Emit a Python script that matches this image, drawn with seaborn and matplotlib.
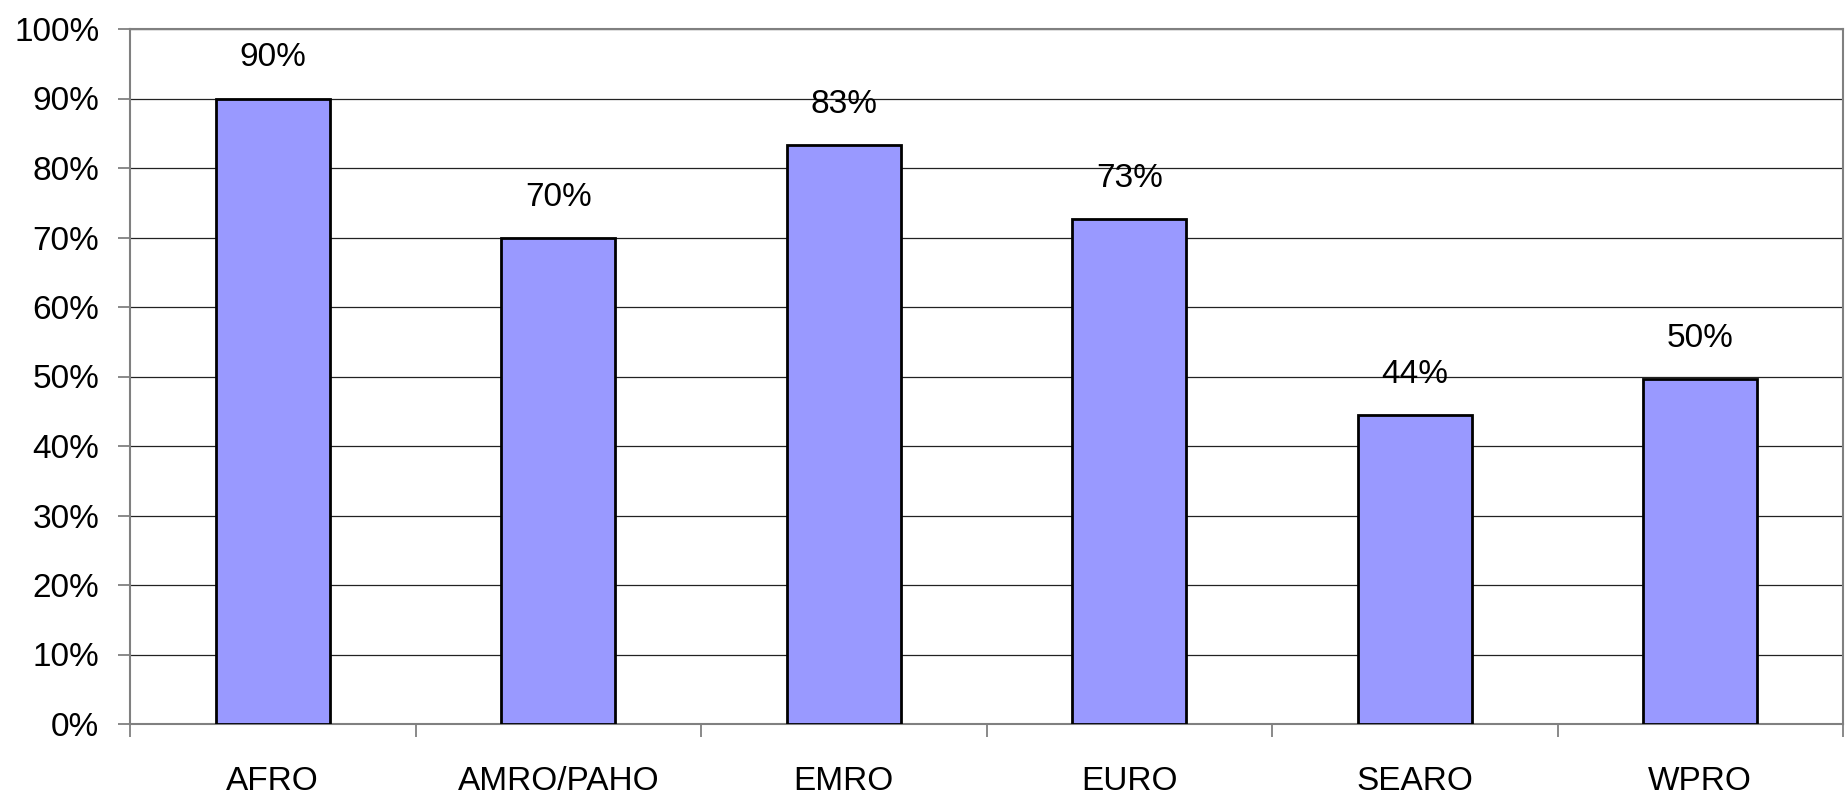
import matplotlib
matplotlib.use("Agg")
import matplotlib.pyplot as plt
import seaborn as sns
import pandas as pd
import numpy as np
from matplotlib.ticker import FixedLocator, PercentFormatter

regions = ["AFRO", "AMRO/PAHO", "EMRO", "EURO", "SEARO", "WPRO"]
values = [90.0, 70.0, 83.3, 72.7, 44.4, 49.6]
labels = ["90%", "70%", "83%", "73%", "44%", "50%"]
yticks = [0, 10, 20, 30, 40, 50, 60, 70, 80, 90, 100]

sns.set_theme(style="white")
plt.rcParams['font.family'] = ['Liberation Sans', 'DejaVu Sans']
plt.rcParams['text.color'] = 'black'
plt.rcParams['xtick.labelcolor'] = 'black'
plt.rcParams['ytick.labelcolor'] = 'black'

df = pd.DataFrame({"region": regions, "value": values})

fig = plt.figure(figsize=(18.45, 7.97), dpi=100)
ax = fig.add_axes([130/1845, 1 - 724/797, (1843 - 130)/1845, (724 - 29)/797])

sns.barplot(data=df, x="region", y="value", ax=ax, color="#9999FF",
            saturation=1, width=0.40, edgecolor="black", linewidth=2, zorder=3)

ax.set_ylim(0, 100)
ax.set_xlim(-0.5, len(regions) - 0.5)
ax.yaxis.set_major_locator(FixedLocator(yticks))
ax.yaxis.set_major_formatter(PercentFormatter(decimals=0))
ax.grid(axis="y", color="#222222", linewidth=0.9, zorder=0)
ax.set_axisbelow(True)
ax.set_xlabel("")
ax.set_ylabel("")

for s in ax.spines.values():
    s.set_visible(True)
    s.set_color("#808080")
    s.set_linewidth(1.5)

ax.tick_params(axis="y", which="major", length=9, width=1.3, color="#808080",
               direction="out", pad=13, labelsize=24, left=True, labelcolor="black")
ax.tick_params(axis="x", which="major", length=0, pad=30, labelsize=24, labelcolor="black")
ax.set_xticks(np.arange(len(regions)))
ax.set_xticklabels(regions)
ax.set_xticks(np.arange(len(regions) + 1) - 0.5, minor=True)
ax.tick_params(axis="x", which="minor", length=9, width=1.3, color="#808080",
               direction="out", bottom=True)

for i, (v, lab) in enumerate(zip(values, labels)):
    ax.annotate(lab, (i, v), xytext=(0, 18), textcoords="offset points",
                ha="center", va="bottom", fontsize=24, color="black")

fig.savefig("out.png", dpi=100)
